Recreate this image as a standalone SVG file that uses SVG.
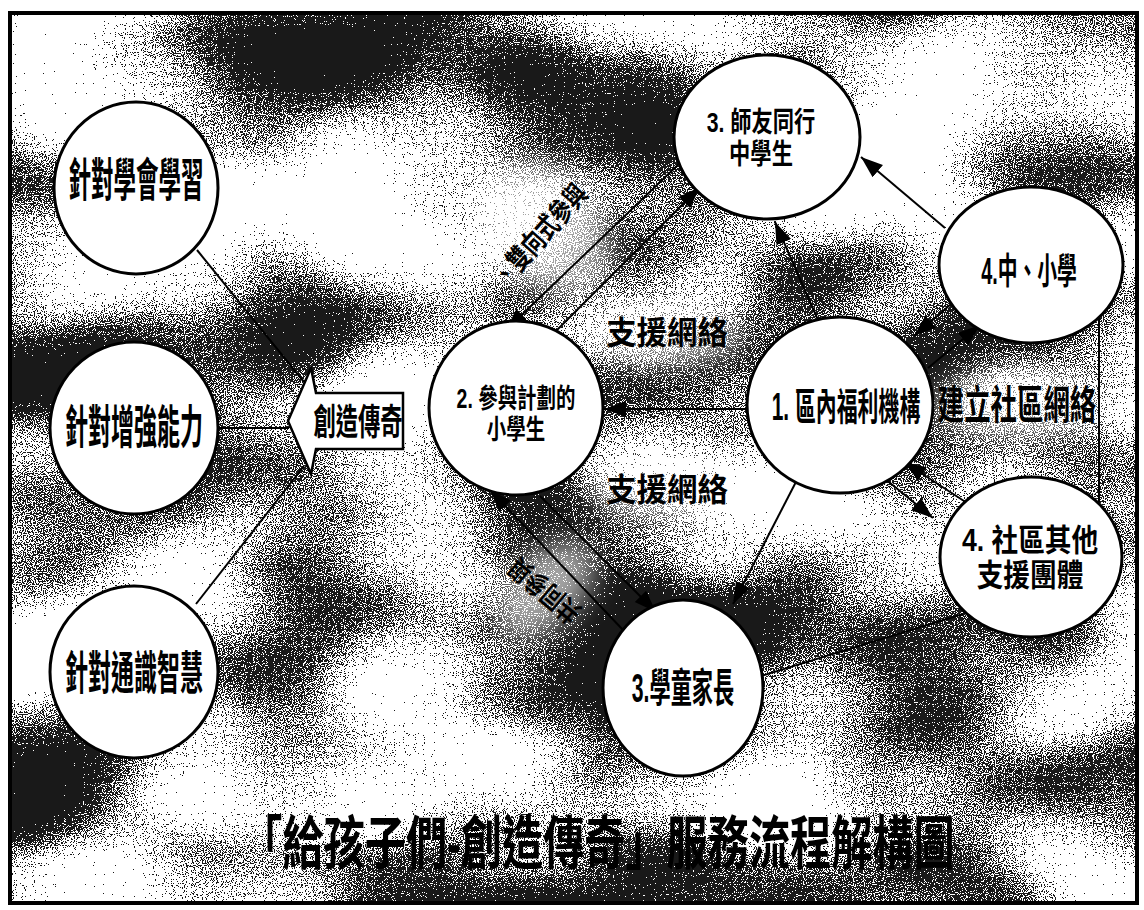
<svg xmlns="http://www.w3.org/2000/svg" width="1144" height="910" viewBox="0 0 1144 910">
<style>
.n{fill:#fff;stroke:#000;stroke-width:3}
.t{font-family:"Liberation Sans","Noto Sans CJK TC","Noto Sans CJK SC",sans-serif;font-weight:bold;fill:#000;text-anchor:middle}
.c{stroke:#000;stroke-width:2;fill:none}
.a{marker-end:url(#ah)}
.lt{fill:#fff;opacity:0.6;filter:url(#blur)}
</style>
<defs>
<marker id="ah" markerUnits="userSpaceOnUse" markerWidth="24" markerHeight="18" refX="22" refY="8" orient="auto"><path d="M0,0 L22,8 L0,16 z" fill="#000"/></marker>
<filter id="tex" x="0" y="0" width="1" height="1" color-interpolation-filters="sRGB">
<feTurbulence type="fractalNoise" baseFrequency="0.9" numOctaves="1" seed="2" result="f"/>
<feColorMatrix in="f" type="matrix" values="1 0 0 0 0 1 0 0 0 0 1 0 0 0 0 0 0 0 0 1" result="fg"/>
<feTurbulence type="fractalNoise" baseFrequency="0.004 0.007" numOctaves="2" seed="11" result="c"/>
<feColorMatrix in="c" type="matrix" values="1 0 0 0 0 1 0 0 0 0 1 0 0 0 0 0 0 0 0 1" result="cg"/>
<feComposite in="fg" in2="cg" operator="arithmetic" k1="0" k2="1" k3="1.2" k4="-0.57" result="s"/>
<feComponentTransfer in="s"><feFuncR type="discrete" tableValues="0.1 1"/><feFuncG type="discrete" tableValues="0.1 1"/><feFuncB type="discrete" tableValues="0.1 1"/><feFuncA type="linear" slope="0" intercept="1"/></feComponentTransfer>
</filter>
<filter id="blur" x="-50%" y="-50%" width="200%" height="200%"><feGaussianBlur stdDeviation="14"/></filter>
</defs>
<rect width="1144" height="910" fill="#fff"/>
<rect x="10" y="13" width="1127" height="890" fill="#888" filter="url(#tex)"/>
<g id="light-patches">
<ellipse class="lt" cx="545" cy="228" rx="55" ry="75" transform="rotate(-45 545 228)"/>
<ellipse class="lt" cx="545" cy="590" rx="35" ry="60" transform="rotate(45 545 590)"/>
<ellipse class="lt" cx="667" cy="335" rx="75" ry="28"/>
<ellipse class="lt" cx="667" cy="490" rx="75" ry="28"/>
<ellipse class="lt" cx="1017" cy="405" rx="85" ry="30"/>
</g>
<rect x="10" y="13" width="1127" height="890" fill="none" stroke="#000" stroke-width="4"/>

<g id="connectors">
<line class="c" x1="197" y1="250" x2="304" y2="382"/>
<line class="c" x1="218" y1="428" x2="289" y2="428"/>
<line class="c" x1="196" y1="604" x2="304" y2="466"/>
<line class="c a" x1="750" y1="409" x2="604" y2="409"/>
<line class="c a" x1="818" y1="320" x2="775" y2="222"/>
<line class="c a" x1="945" y1="228" x2="861" y2="157"/>
<line class="c a" x1="965" y1="292" x2="914" y2="336"/>
<line class="c a" x1="928" y1="368" x2="980" y2="325"/>
<line class="c a" x1="964" y1="501" x2="904" y2="462"/>
<line class="c a" x1="884" y1="478" x2="933" y2="518"/>
<line class="c" x1="1099" y1="318" x2="1099" y2="502"/>
<line class="c" x1="963" y1="614" x2="761" y2="676"/>
<line class="c a" x1="798" y1="478" x2="733" y2="604"/>
<line class="c a" x1="624" y1="631" x2="490" y2="490"/>
<line class="c a" x1="540" y1="496" x2="656" y2="612"/>
<line class="c a" x1="545" y1="342" x2="700" y2="187"/>
<line class="c a" x1="683" y1="160" x2="506" y2="330"/>
</g>

<g id="n-learn"><ellipse class="n" cx="136" cy="188" rx="82" ry="86"/><text class="t" font-size="46" transform="translate(136,196) scale(0.49,1)">針對學會學習</text></g>
<g id="n-ability"><ellipse class="n" cx="134" cy="428" rx="84" ry="86"/><text class="t" font-size="46" transform="translate(134,443) scale(0.5,1)">針對增強能力</text></g>
<g id="n-wisdom"><ellipse class="n" cx="134" cy="672" rx="84" ry="86"/><text class="t" font-size="46" transform="translate(134,689) scale(0.5,1)">針對通識智慧</text></g>

<g id="arrow-legend"><path d="M288,421 L311,368 L316,393 L403,393 L403,449 L316,449 L311,474 Z" fill="#fff" stroke="#000" stroke-width="2.5"/><text class="t" font-size="36" transform="translate(358,435) scale(0.62,1)">創造傳奇</text></g>

<g id="n2"><ellipse class="n" cx="516" cy="408" rx="87" ry="87"/><text class="t" font-size="27" transform="translate(516,408) scale(0.72,1)"><tspan x="0" y="0">2. 參與計劃的</tspan><tspan x="0" y="31">小學生</tspan></text></g>
<g id="n3"><ellipse class="n" cx="767" cy="137" rx="93" ry="82"/><text class="t" font-size="28" transform="translate(761,132) scale(0.76,1)"><tspan x="0" y="0">3. 師友同行</tspan><tspan x="0" y="32">中學生</tspan></text></g>
<g id="n1"><ellipse class="n" cx="840" cy="405" rx="93" ry="88"/><text class="t" font-size="38" transform="translate(846,420) scale(0.55,1)">1. 區內福利機構</text></g>
<g id="n4a"><ellipse class="n" cx="1031" cy="265" rx="92" ry="78"/><text class="t" font-size="36" transform="translate(1029,284) scale(0.55,1)">4.中、小學</text></g>
<g id="n4b"><ellipse class="n" cx="1031" cy="557" rx="91" ry="80"/><text class="t" font-size="31" transform="translate(1030,551) scale(0.86,1)"><tspan x="0" y="0">4. 社區其他</tspan><tspan x="0" y="35">支援團體</tspan></text></g>
<g id="n3b"><ellipse class="n" cx="683" cy="688" rx="80" ry="88"/><text class="t" font-size="40" transform="translate(683,702) scale(0.53,1)">3.學童家長</text></g>

<g id="labels">
<text class="t" font-size="32" transform="translate(667,344) scale(0.95,1)">支援網絡</text>
<text class="t" font-size="32" transform="translate(667,501) scale(0.95,1)">支援網絡</text>
<text class="t" font-size="40" transform="translate(1017,419) scale(0.66,1)">建立社區網絡</text>
<text class="t" font-size="28" transform="translate(540,235) rotate(-48) scale(0.75,1)" y="10">、雙向式參與</text>
<text class="t" font-size="27" transform="translate(545,590) rotate(220) scale(0.78,1)" y="9">共同參與</text>
<text class="t" font-size="58" transform="translate(598,864) scale(0.71,1)">「給孩子們-創造傳奇」服務流程解構圖</text>
</g>
</svg>
